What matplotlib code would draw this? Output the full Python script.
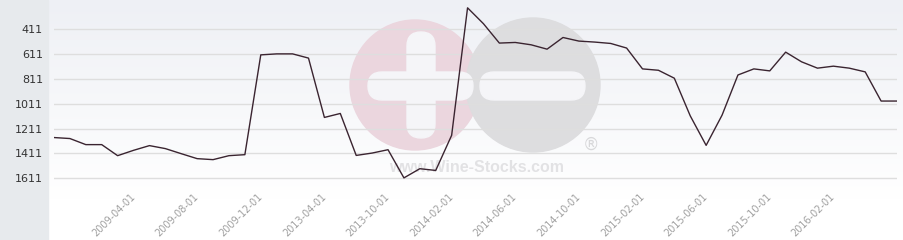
import numpy as np
import matplotlib
matplotlib.use("Agg")
import matplotlib.pyplot as plt
from matplotlib.patches import Circle, FancyBboxPatch, Rectangle
from matplotlib.colors import LinearSegmentedColormap

# Datos: fechas (eje categórico) y ranking
fechas = [
    "2008-11-01", "2008-12-01", "2009-01-01", "2009-02-01", "2009-03-01", "2009-04-01",
    "2009-05-01", "2009-06-01", "2009-07-01", "2009-08-01", "2009-09-01", "2009-10-01",
    "2009-11-01", "2009-12-01", "2010-06-01", "2011-06-01", "2012-06-01", "2013-04-01",
    "2013-05-01", "2013-06-01", "2013-08-01", "2013-10-01", "2013-11-01", "2013-12-01",
    "2014-01-01", "2014-02-01", "2014-03-01", "2014-04-01", "2014-05-01", "2014-06-01",
    "2014-07-01", "2014-08-01", "2014-09-01", "2014-10-01", "2014-11-01", "2014-12-01",
    "2015-01-01", "2015-02-01", "2015-03-01", "2015-04-01", "2015-05-01", "2015-06-01",
    "2015-07-01", "2015-08-01", "2015-09-01", "2015-10-01", "2015-11-01", "2015-12-01",
    "2016-01-01", "2016-02-01", "2016-03-01", "2016-04-01", "2016-05-01", "2016-06-01",
]
ranking = [
    1283, 1291, 1340, 1340, 1429, 1386, 1348, 1372, 1413, 1453, 1461, 1429, 1421,
    617, 609, 609, 643,
    1121, 1089, 1427, 1408, 1381, 1608, 1534, 1548, 1265,
    238, 366, 522, 517, 536, 571, 477, 506, 514,
    525, 562, 730, 741, 805, 1108, 1346, 1103, 779, 730, 746, 595, 673, 724, 708, 724, 754, 989, 989,
]
yticks = [411, 611, 811, 1011, 1211, 1411, 1611]
etiquetas_x = ["2009-04-01", "2009-08-01", "2009-12-01", "2013-04-01", "2013-10-01", "2014-02-01",
               "2014-06-01", "2014-10-01", "2015-02-01", "2015-06-01", "2015-10-01", "2016-02-01"]

W, H = 904, 240
fig = plt.figure(figsize=(W / 100, H / 100), dpi=100)

# Fondo en coordenadas de pixel: degradado, panel izquierdo y marca de agua
bg = fig.add_axes([0, 0, 1, 1])
bg.set_xlim(0, W)
bg.set_ylim(H, 0)
bg.axis("off")
cmap = LinearSegmentedColormap.from_list("fondo", ["#eef0f5", "#ffffff"])
grad = np.linspace(0, 1, 200).reshape(-1, 1)
bg.imshow(grad, cmap=cmap, extent=[48, W, 200, 0], aspect="auto", zorder=0)
bg.add_patch(Rectangle((48, 200), W - 48, 40, color="#ffffff", zorder=0))
bg.add_patch(Rectangle((0, 0), 48, H, color="#e7eaed", zorder=1))

bg.add_patch(Circle((415, 85), 65, color="#ebd6de", zorder=1))
bg.add_patch(Circle((533, 85), 67, color="#dddddf", zorder=1))
bg.add_patch(FancyBboxPatch((407, 32), 28, 106, boxstyle="round,pad=0,rounding_size=14",
                            color="#f5f5f8", zorder=2))
bg.add_patch(FancyBboxPatch((368, 72), 105, 28, boxstyle="round,pad=0,rounding_size=14",
                            color="#f5f5f8", zorder=2))
bg.add_patch(FancyBboxPatch((480, 72), 105, 28, boxstyle="round,pad=0,rounding_size=14",
                            color="#f5f5f8", zorder=2))
bg.text(477, 167, "www.Wine-Stocks.com", ha="center", va="center", fontsize=11.5,
        fontweight="bold", family="Liberation Sans", color="#e2e2e4", zorder=2)
bg.text(591, 145, "®", ha="center", va="center", fontsize=12,
        family="DejaVu Sans", color="#d8d8da", zorder=2)

# Gráfica principal
ax = fig.add_axes([54 / W, 42 / H, 843 / W, 198 / H])
ax.set_facecolor("none")
x = np.arange(len(ranking))
ax.plot(x, ranking, color="#3a2430", linewidth=1, zorder=3)
ax.set_xlim(0, len(ranking) - 1)
ax.set_ylim(1770, 175)

ax.set_yticks(yticks)
ax.set_yticklabels([str(v) for v in yticks], fontsize=8, color="#333333")
ax.grid(axis="y", color="#dedede", linewidth=1)
ax.set_axisbelow(True)

pos = [fechas.index(f) for f in etiquetas_x]
ax.set_xticks(pos)
ax.set_xticklabels(etiquetas_x, rotation=45, ha="right", va="center",
                   rotation_mode="anchor", fontsize=7, color="#a0a0a0")

for s in ax.spines.values():
    s.set_visible(False)
ax.tick_params(axis="both", length=0)
ax.tick_params(axis="y", pad=8)
ax.tick_params(axis="x", pad=-2)

fig.savefig("out.png", dpi=100)
